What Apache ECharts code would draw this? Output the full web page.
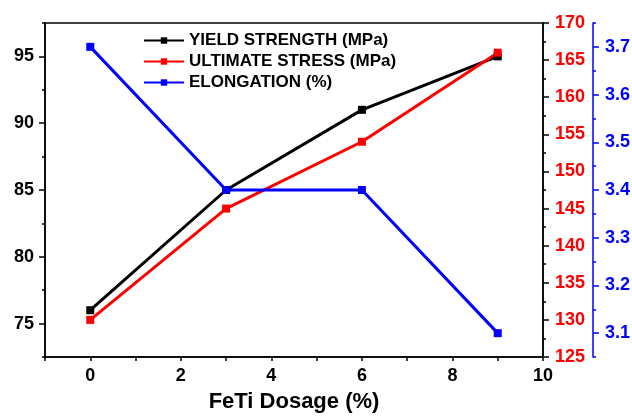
<!DOCTYPE html>
<html>
<head>
<meta charset="utf-8">
<script src="https://cdn.jsdelivr.net/npm/echarts@6/dist/echarts.min.js"></script>
<style>
html,body{margin:0;padding:0;background:#fff;}
#chart{width:632px;height:416px;}
</style>
</head>
<body>
<div id="chart"></div>
<script>
// Data
const dosage = [0, 3, 6, 9];
const yieldStrength = [76, 85, 91, 95];
const ultimateStress = [130, 145, 154, 166];
const elongation = [3.7, 3.4, 3.4, 3.1];
const seriesNames = ['YIELD STRENGTH (MPa)', 'ULTIMATE STRESS (MPa)', 'ELONGATION (%)'];
const leftTicks = [75, 80, 85, 90, 95];
const blueTicks = [3.1, 3.2, 3.3, 3.4, 3.5, 3.6, 3.7];
const xTitle = 'FeTi Dosage (%)';

const FONT = '"Liberation Sans", Arial, sans-serif';
const chart = echarts.init(document.getElementById('chart'), null, {renderer: 'canvas'});
const pair = (xs, ys) => xs.map((x, i) => [x, ys[i]]);
const labelStyle = (color) => ({fontFamily: FONT, fontWeight: 'bold', fontSize: 18, color: color});

chart.setOption({
  animation: false,
  backgroundColor: '#fff',
  grid: {left: 45, right: 89, top: 23, bottom: 59, containLabel: false, outerBoundsMode: 'none',
         show: true, borderColor: '#000', borderWidth: 1.5, backgroundColor: 'transparent'},
  legend: {
    left: 138, top: 27, orient: 'vertical', itemWidth: 40, itemHeight: 8, itemGap: 4,
    data: seriesNames,
    textStyle: {fontFamily: FONT, fontWeight: 'bold', fontSize: 17, color: '#000'}
  },
  xAxis: [{
    type: 'value', min: -1, max: 10, interval: 1,
    axisLine: {onZero: false, lineStyle: {color: '#000', width: 1.5}},
    axisTick: {length: 4, lineStyle: {color: '#000', width: 1.5}},
    splitLine: {show: false},
    axisLabel: Object.assign(labelStyle('#000'), {margin: 10,
      formatter: v => (Math.round(v) % 2 === 0 ? String(v) : '')}),
    name: xTitle, nameLocation: 'middle', nameGap: 34,
    nameTextStyle: {fontFamily: FONT, fontWeight: 'bold', fontSize: 22, color: '#000'}
  }],
  yAxis: [
    { // 0: left main
      type: 'value', position: 'left', min: 72.5, max: 97.5,
      axisLine: {show: true, onZero: false, lineStyle: {color: '#000', width: 1.5}},
      axisTick: {show: true, length: 6, customValues: leftTicks, lineStyle: {color: '#000', width: 1.5}},
      axisLabel: Object.assign(labelStyle('#000'), {margin: 11, customValues: leftTicks}),
      splitLine: {show: false}
    },
    { // 1: left minor ticks overlay
      type: 'value', position: 'left', min: 72.5, max: 97.5, interval: 2.5,
      axisLine: {show: false, onZero: false},
      axisTick: {show: true, length: 3, lineStyle: {color: '#000', width: 1.5}},
      axisLabel: {show: false}, splitLine: {show: false}
    },
    { // 2: red right
      type: 'value', position: 'right', offset: 0, min: 125, max: 170, interval: 5,
      axisLine: {show: true, onZero: false, lineStyle: {color: '#000', width: 1.5}},
      axisTick: {show: true, length: 6, lineStyle: {color: '#000', width: 1.5}},
      minorTick: {show: true, splitNumber: 2, length: 3, lineStyle: {color: '#000', width: 1.5}},
      axisLabel: Object.assign(labelStyle('#FF0000'), {margin: 12}),
      splitLine: {show: false}, minorSplitLine: {show: false}
    },
    { // 3: blue right offset
      type: 'value', position: 'right', offset: 50, min: 3.05, max: 3.75,
      axisLine: {show: true, onZero: false, lineStyle: {color: '#0000FF', width: 1.5}},
      axisTick: {show: true, length: 6, customValues: blueTicks, lineStyle: {color: '#0000FF', width: 1.5}},
      axisLabel: Object.assign(labelStyle('#0000FF'), {margin: 12, customValues: blueTicks,
        formatter: v => v.toFixed(1)}),
      splitLine: {show: false}
    },
    { // 4: blue minor ticks overlay
      type: 'value', position: 'right', offset: 50, min: 3.05, max: 3.75, interval: 0.05,
      axisLine: {show: false, onZero: false},
      axisTick: {show: true, length: 3, lineStyle: {color: '#0000FF', width: 1.5}},
      axisLabel: {show: false}, splitLine: {show: false}
    }
  ],
  series: [
    {name: seriesNames[0], type: 'line', yAxisIndex: 0, data: pair(dosage, yieldStrength),
     symbol: 'rect', symbolSize: 8, color: '#000', lineStyle: {width: 3, color: '#000'}, itemStyle: {color: '#000'}},
    {name: seriesNames[1], type: 'line', yAxisIndex: 2, data: pair(dosage, ultimateStress),
     symbol: 'rect', symbolSize: 8, color: '#FF0000', lineStyle: {width: 3, color: '#FF0000'}, itemStyle: {color: '#FF0000'}},
    {name: seriesNames[2], type: 'line', yAxisIndex: 3, data: pair(dosage, elongation),
     symbol: 'rect', symbolSize: 8, color: '#0000FF', lineStyle: {width: 3, color: '#0000FF'}, itemStyle: {color: '#0000FF'}}
  ]
});
</script>
</body>
</html>
